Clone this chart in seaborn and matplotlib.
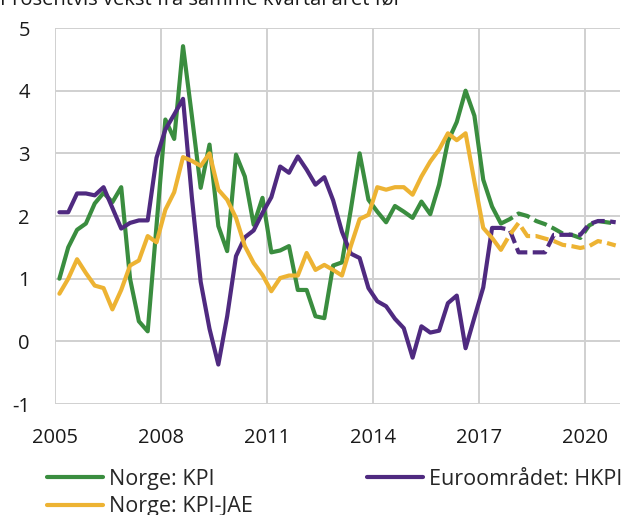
import numpy as np
import pandas as pd
import seaborn as sns
import matplotlib.pyplot as plt
from matplotlib.lines import Line2D

#========================================================================================================
# Data (quarterly, 2005K1 - 2020K4)
#========================================================================================================

years = list(range(2005, 2021))
quarter_labels = [f"{y}K{q}" for y in years for q in range(1, 5)]

#Norge: KPI
kpi = [1.00, 1.50, 1.78, 1.88, 2.20, 2.37, 2.22, 2.46,
       1.00, 0.32, 0.16, 1.85, 3.54, 3.23, 4.71, 3.60,
       2.45, 3.14, 1.84, 1.44, 2.98, 2.63, 1.86, 2.29,
       1.42, 1.45, 1.52, 0.82, 0.82, 0.40, 0.37, 1.21,
       1.26, 2.10, 3.00, 2.26, 2.07, 1.90, 2.16, 2.07,
       1.97, 2.23, 2.03, 2.50, 3.19, 3.50, 4.00, 3.60,
       2.58, 2.15, 1.88, 1.95, 2.04, 2.00, 1.92, 1.87,
       1.80, 1.72, 1.70, 1.65, 1.85, 1.92, 1.90, 1.88]

#Euroområdet: HKPI
hkpi = [2.06, 2.06, 2.36, 2.36, 2.33, 2.46, 2.13, 1.80,
        1.89, 1.93, 1.93, 2.93, 3.38, 3.62, 3.87, 2.30,
        0.95, 0.20, -0.37, 0.40, 1.36, 1.66, 1.77, 2.05,
        2.30, 2.79, 2.69, 2.95, 2.74, 2.50, 2.62, 2.25,
        1.75, 1.40, 1.33, 0.85, 0.64, 0.56, 0.36, 0.21,
        -0.26, 0.24, 0.14, 0.17, 0.61, 0.73, -0.11, 0.38,
        0.86, 1.81, 1.81, 1.78, 1.42, 1.42, 1.42, 1.42,
        1.70, 1.70, 1.70, 1.70, 1.87, 1.92, 1.92, 1.90]

#Norge: KPI-JAE
kpi_jae = [0.76, 1.00, 1.31, 1.09, 0.89, 0.85, 0.51, 0.82,
           1.21, 1.29, 1.68, 1.58, 2.10, 2.38, 2.94, 2.88,
           2.80, 3.00, 2.42, 2.26, 1.97, 1.52, 1.25, 1.06,
           0.80, 1.01, 1.05, 1.05, 1.41, 1.14, 1.22, 1.14,
           1.05, 1.52, 1.95, 2.02, 2.46, 2.42, 2.46, 2.46,
           2.34, 2.63, 2.87, 3.06, 3.32, 3.21, 3.32, 2.55,
           1.81, 1.65, 1.46, 1.70, 1.89, 1.68, 1.68, 1.64,
           1.60, 1.54, 1.52, 1.49, 1.52, 1.60, 1.57, 1.53]

#Last observed quarter (projections dashed after this)
last_obs = {'Norge: KPI': '2017K3', 'Euroområdet: HKPI': '2017K2', 'Norge: KPI-JAE': '2017K3'}

#========================================================================================================
# Build frame
#========================================================================================================

df = pd.DataFrame({'kvartal': quarter_labels,
                   'Norge: KPI': kpi,
                   'Euroområdet: HKPI': hkpi,
                   'Norge: KPI-JAE': kpi_jae})
#time axis: middle of each quarter
df['t'] = [int(s[:4]) + (int(s[-1]) - 0.5) / 4 for s in df['kvartal']]

colors = {'Norge: KPI': '#3a8d3f',
          'Euroområdet: HKPI': '#4f2a80',
          'Norge: KPI-JAE': '#edb333'}

#========================================================================================================
# Plot
#========================================================================================================

sns.set_theme(style='white')
plt.rcParams['font.family'] = ['Open Sans', 'DejaVu Sans']
fs = 14.5

fig, ax = plt.subplots(figsize=(6.27, 5.15), dpi=100)
fig.subplots_adjust(left=0.0877, right=0.989, top=0.9456, bottom=0.2155)

for name in ['Norge: KPI', 'Euroområdet: HKPI', 'Norge: KPI-JAE']:
    idx = quarter_labels.index(last_obs[name])
    solid = df.iloc[:idx + 1]
    proj = df.iloc[idx:]
    sns.lineplot(x=solid['t'], y=solid[name], color=colors[name], lw=3, ax=ax)
    sns.lineplot(x=proj['t'], y=proj[name], color=colors[name], lw=3, ax=ax,
                 linestyle=(0, (3.2, 1.3)))

ax.set_xlim(2005, 2021)
ax.set_ylim(-1, 5)
ax.set_xticks(np.arange(2005, 2021, 3))
ax.set_yticks(np.arange(-1, 6, 1))
ax.set_xticklabels([str(y) for y in range(2005, 2021, 3)], fontsize=fs, color='#1a1a1a')
ax.set_yticklabels([str(v) for v in range(-1, 6)], fontsize=fs, color='#1a1a1a')
ax.tick_params(axis='x', length=0, pad=17)
ax.tick_params(axis='y', length=0, pad=18)
ax.set_xlabel('')
ax.set_ylabel('')
ax.grid(True, color='#d0d0d0', lw=1.4)
ax.set_axisbelow(True)
for s in ax.spines.values():
    s.set_visible(False)

#Cut-off unit text at the top
fig.text(0.0, 0.992, 'Prosentvis vekst fra samme kvartal året før', fontsize=fs,
         color='#1a1a1a', ha='left', va='baseline')

#Legend
order = ['Norge: KPI', 'Norge: KPI-JAE', 'Euroområdet: HKPI']
handles = [Line2D([], [], color=colors[n], lw=3) for n in order]
fig.legend(handles, order, ncol=2, loc='upper left', bbox_to_anchor=(0.075, 0.09),
           frameon=False, fontsize=15.5, handlelength=2.6, handletextpad=0.28,
           columnspacing=5.3, labelspacing=0.3, borderaxespad=0, borderpad=0)

plt.savefig('out.png', dpi=100)
plt.close()
